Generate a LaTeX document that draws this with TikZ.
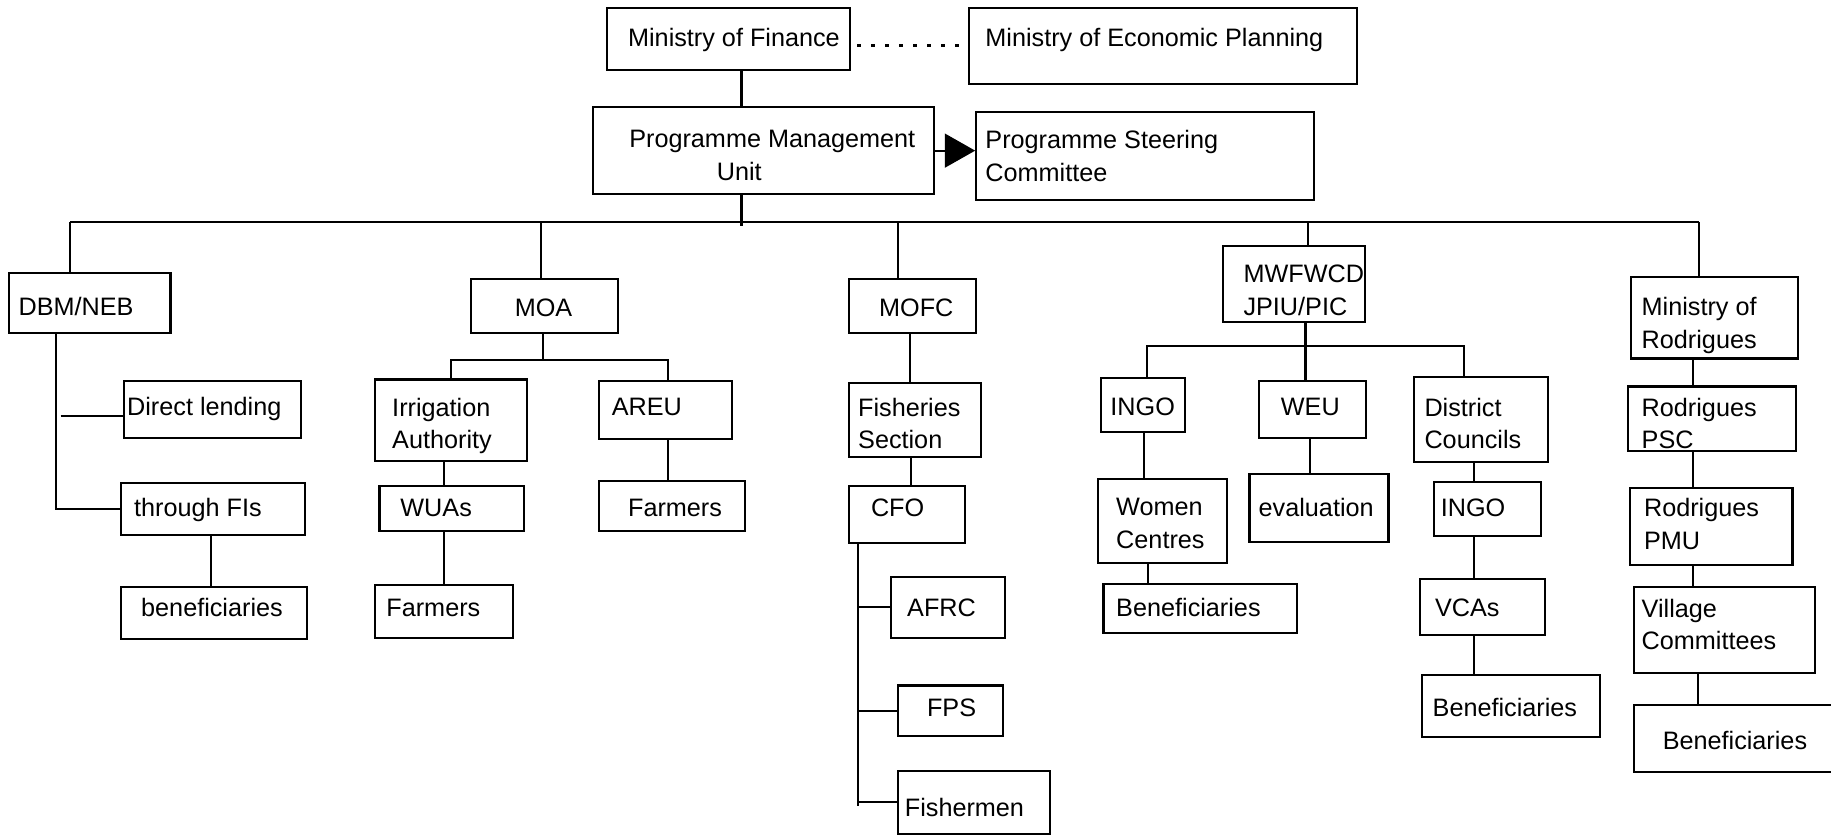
\documentclass[tikz,border=0pt]{standalone}
\usepackage{fontspec}
\setmainfont{Liberation Sans}
\usetikzlibrary{arrows.meta}
\tikzset{
  box/.style={draw, inner sep=0pt},
  lbl/.style={anchor=north west, inner sep=0pt, align=left, font=\fontsize{21.6}{28}\selectfont, execute at begin node=\strut},
  dots/.style={dash pattern=on 3pt off 9pt, line width=2.2pt},
}
\def\orgbox(#1,#2,#3,#4,#5,#6,#7)#8{
  \node[box, minimum width=#4-#2, minimum height=#5-#3] (#1) at ({(#2+#4)/2},{(#3+#5)/2}) {};
  \node[lbl] (#1t) at (#6,{#7-12.6}) {#8};
}
\begin{document}
\begin{tikzpicture}[x=1pt, y=-1pt, line width=1.8pt]
\useasboundingbox (0,0) rectangle (1568,715);
\orgbox(mof,520,7,728,60,537,32){Ministry of Finance}
\orgbox(moep,830,7,1162,72,843,32){Ministry of Economic Planning}
\orgbox(pmu,508,92,800,166,538,123.5){Programme Management\\\hspace*{75pt}Unit}
\orgbox(psc,836,96,1125,171,843,123.5){Programme Steering\\Committee}
\orgbox(dbm,8,234,146,285,15,262){DBM/NEB}
\orgbox(dl,106,326,258,375,108,348){Direct lending}
\orgbox(fis,104,414,261,458,114,434){through FIs}
\orgbox(benA,104,503,263,547,120,520){beneficiaries}
\orgbox(moa,403,239,529,285,440,263){MOA}
\orgbox(irr,321,325,451,395,335,352.5){Irrigation\\Authority}
\orgbox(wua,325,416,449,455,342,434){WUAs}
\orgbox(farmA,321,501,439,546,330,520){Farmers}
\orgbox(areu,513,326,627,376,523,348){AREU}
\orgbox(farmB,513,412,638,455,537,434){Farmers}
\orgbox(mofc,727,239,836,285,752,263){MOFC}
\orgbox(fish,727,328,840,391,734,352.5){Fisheries\\Section}
\orgbox(cfo,727,416,826,465,745,434){CFO}
\orgbox(afrc,763,494,861,546,776,520){AFRC}
\orgbox(fps,769,587,859,630,793,606){FPS}
\orgbox(fmen,769,660,899,714,774,691){Fishermen}
\orgbox(mwf,1047,211,1169,276,1064,238.5){MWFWCD\\JPIU/PIC}
\orgbox(ingoA,943,324,1015,370,950,348){INGO}
\orgbox(women,940,410,1051,482,955,438.5){Women\\Centres}
\orgbox(benB,945,500,1111,542,955,520){Beneficiaries}
\orgbox(weu,1078,326,1170,375,1096,348){WEU}
\orgbox(eval,1070,406,1189,464,1077,434){evaluation}
\orgbox(dc,1211,323,1326,396,1219,352.5){District\\Councils}
\orgbox(ingoB,1228,413,1320,459,1233,434){INGO}
\orgbox(vca,1216,496,1323,544,1228,520){VCAs}
\orgbox(benC,1218,578,1370,631,1226,606){Beneficiaries}
\orgbox(mor,1397,237,1540,307,1405,266.5){Ministry of\\Rodrigues}
\orgbox(rpsc,1394,331,1538,386,1405,352.5){Rodrigues\\PSC}
\orgbox(rpmu,1396,418,1535,484,1407,438.5){Rodrigues\\PMU}
\orgbox(vc,1399,503,1554,576,1405,524.5){Village\\Committees}
\orgbox(benD,1399,604,1580,661,1423,634){Beneficiaries}
\coordinate (spine) at (635,0);
\coordinate (busl) at (60,190);
\coordinate (busr) at (1455,190);
\draw (mof.south -| spine) -- (pmu.north -| spine);
\draw[dots] ([yshift=-5.5pt,xshift=5pt]mof.east) -- ([yshift=-5.5pt,xshift=-8pt]mof.east -| moep.west);
\draw[-{Triangle[length=26pt,width=29pt]}] (pmu.east) -- (pmu.east -| psc.west);
\draw (pmu.south -| spine) -- ++(0,27);
\draw (busl) -- (busr);
\foreach \n/\x in {dbm/60,moa/463,mofc/769,mwf/1120,mor/1455}
  \draw (\x,190) -- (\x,0 |- \n.north);
\draw (dbm.south -| 48,0) |- (fis.west);
\draw (52,356) -- (dl.west |- 0,356);
\draw (fis.south -| 181,0) -- (benA.north -| 181,0);
\draw (moa.south -| 465,0) -- (465,308);
\draw (irr.north -| 386,0) |- (572,308) -- (areu.north -| 572,0);
\draw (irr.south -| 380,0) -- (wua.north -| 380,0);
\draw (wua.south -| 380,0) -- (farmA.north -| 380,0);
\draw (areu.south -| 572,0) -- (farmB.north -| 572,0);
\draw (mofc.south -| 779,0) -- (fish.north -| 779,0);
\draw (fish.south -| 780,0) -- (cfo.north -| 780,0);
\draw (cfo.south -| 735,0) -- (735,690);
\foreach \n in {afrc,fps,fmen}
  \draw (735,0 |- \n.west) -- (\n.west);
\draw (mwf.south -| 1118,0) -- (weu.north -| 1118,0);
\draw (ingoA.north -| 982,0) |- (1254,296) -- (dc.north -| 1254,0);
\draw (ingoA.south -| 980,0) -- (women.north -| 980,0);
\draw (women.south -| 983,0) -- (benB.north -| 983,0);
\draw (weu.south -| 1122,0) -- (eval.north -| 1122,0);
\draw (dc.south -| 1262,0) -- (ingoB.north -| 1262,0);
\draw (ingoB.south -| 1262,0) -- (vca.north -| 1262,0);
\draw (vca.south -| 1262,0) -- (benC.north -| 1262,0);
\draw (mor.south -| 1450,0) -- (rpsc.north -| 1450,0);
\draw (rpsc.south -| 1450,0) -- (rpmu.north -| 1450,0);
\draw (rpmu.south -| 1450,0) -- (vc.north -| 1450,0);
\draw (vc.south -| 1454,0) -- (benD.north -| 1454,0);
\end{tikzpicture}
\end{document}
